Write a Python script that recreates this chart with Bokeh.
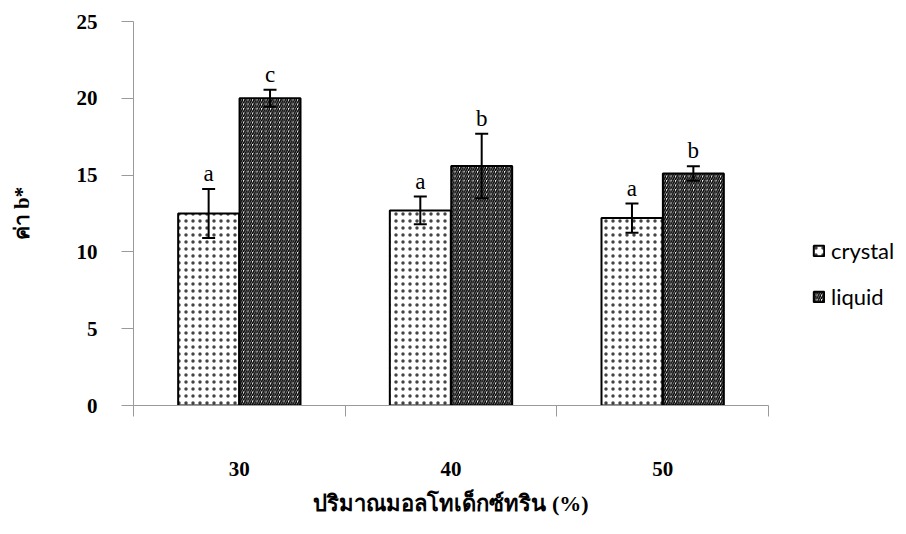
import numpy as np
from bokeh.plotting import figure
from bokeh.layouts import row
from bokeh.models import (ColumnDataSource, Whisker, TeeHead, FixedTicker, Legend,
                          LegendItem, Range1d)
from bokeh.core.properties import value
from bokeh.embed import file_html
from bokeh.resources import INLINE

# ---- data ----
categories = ["30", "40", "50"]
crystal = [12.5, 12.7, 12.2]
crystal_err = [1.6, 0.9, 0.95]
crystal_letters = ["a", "a", "a"]
liquid = [20.0, 15.6, 15.1]
liquid_err = [0.55, 2.1, 0.47]
liquid_letters = ["c", "b", "b"]
series_names = ["crystal", "liquid"]
y_ticks = [0, 5, 10, 15, 20, 25]
x_title = "ปริมาณมอลโทเด็กซ์ทริน (%)"
y_title = "ค่า b*"

W, H = 906, 534
LEFT, TOP, BOTTOM = 133, 21, 129
MAIN_W = 776
n = len(categories)

BAR_W = 0.288
OFFSET = 0.145
centers = np.arange(n) + 0.5

def make_src(vals, errs, letters, off):
    v = np.array(vals, dtype=float)
    e = np.array(errs, dtype=float)
    return ColumnDataSource(dict(x=centers + off, top=v, upper=v + e, lower=v - e,
                                 letter=letters))

src_c = make_src(crystal, crystal_err, crystal_letters, -OFFSET)
src_l = make_src(liquid, liquid_err, liquid_letters, OFFSET)

p = figure(width=MAIN_W, height=H, output_backend="svg", toolbar_location=None,
           x_range=Range1d(0, n), y_range=Range1d(0, 25),
           min_border_left=LEFT, min_border_right=8, min_border_top=TOP,
           min_border_bottom=BOTTOM, background_fill_color="white",
           border_fill_color="white")
p.outline_line_color = None
p.grid.visible = False

SERIF = "Liberation Serif"
AX_COL = "#9a9a9a"

# y axis
ya = p.yaxis[0]
ya.ticker = FixedTicker(ticks=y_ticks)
ya.axis_line_color = AX_COL
ya.major_tick_line_color = AX_COL
ya.major_tick_out = 12
ya.major_tick_in = 0
ya.minor_tick_line_color = None
ya.major_label_text_font = SERIF
ya.major_label_text_font_style = "bold"
ya.major_label_text_font_size = "21px"
ya.major_label_text_color = "black"
ya.major_label_standoff = 24
ya.axis_label = y_title
ya.axis_label_text_font = SERIF
ya.axis_label_text_font_style = "bold"
ya.axis_label_text_font_size = "21px"
ya.axis_label_text_color = "black"
ya.axis_label_standoff = 40

# x axis
xa = p.xaxis[0]
xa.ticker = FixedTicker(ticks=list(centers), minor_ticks=list(range(n + 1)))
xa.major_label_overrides = {float(c): lab for c, lab in zip(centers, categories)}
xa.axis_line_color = AX_COL
xa.major_tick_line_color = None
xa.major_tick_out = 0
xa.major_tick_in = 0
xa.minor_tick_line_color = AX_COL
xa.minor_tick_out = 11
xa.minor_tick_in = 0
xa.major_label_text_font = SERIF
xa.major_label_text_font_style = "bold"
xa.major_label_text_font_size = "21px"
xa.major_label_text_color = "black"
xa.major_label_standoff = 45
xa.axis_label = x_title
xa.axis_label_text_font = SERIF
xa.axis_label_text_font_style = "bold"
xa.axis_label_text_font_size = "22px"
xa.axis_label_text_color = "black"
xa.axis_label_standoff = 12

crystal_style = dict(fill_color="white", line_color="black", line_width=2,
                     hatch_pattern="dot", hatch_scale=7, hatch_color="#444444",
                     hatch_weight=0.45)
liquid_style = dict(fill_color="white", line_color="black", line_width=2,
                    hatch_pattern="right_diagonal_line", hatch_scale=4.5,
                    hatch_color="black", hatch_weight=1.6)

# bars
p.vbar(x="x", top="top", width=BAR_W, source=src_c, **crystal_style)
p.vbar(x="x", top="top", width=BAR_W, source=src_l, **liquid_style)

for src in (src_c, src_l):
    w = Whisker(base="x", upper="upper", lower="lower", source=src, line_width=2,
                line_color="black",
                upper_head=TeeHead(size=13, line_width=2, line_color="black"),
                lower_head=TeeHead(size=13, line_width=2, line_color="black"),
                level="overlay")
    p.add_layout(w)
    p.text(x="x", y="upper", text="letter", source=src, text_font=value(SERIF),
           text_font_size="23px", text_align="center", text_baseline="bottom",
           y_offset=-3, text_color="black")

# legend panel (separate figure at the right); its renderers are hidden,
# only their legend swatches are drawn
LEG_W = W - MAIN_W
q = figure(width=LEG_W, height=H, output_backend="svg", toolbar_location=None,
           x_range=Range1d(0, 1), y_range=Range1d(0, 1),
           min_border=0, background_fill_color="white", border_fill_color="white")
q.axis.visible = False
q.grid.visible = False
q.outline_line_color = None
lc = q.vbar(x="x", top="top", width=BAR_W, source=src_c, visible=False, **crystal_style)
ll = q.vbar(x="x", top="top", width=BAR_W, source=src_l, visible=False, **liquid_style)

legend = Legend(items=[LegendItem(label=series_names[0], renderers=[lc], index=0),
                       LegendItem(label=series_names[1], renderers=[ll], index=0)],
                location=(812 - MAIN_W, 95), orientation="vertical",
                label_text_font="Lato", label_text_font_size="22px",
                label_text_color="black", glyph_width=13, glyph_height=13,
                label_height=22, spacing=19, padding=0, margin=0,
                label_standoff=6, border_line_color=None,
                background_fill_alpha=0, inactive_fill_alpha=0)
q.add_layout(legend)

layout = row(p, q, spacing=0)
open("out.html", "w").write(file_html(layout, INLINE))
